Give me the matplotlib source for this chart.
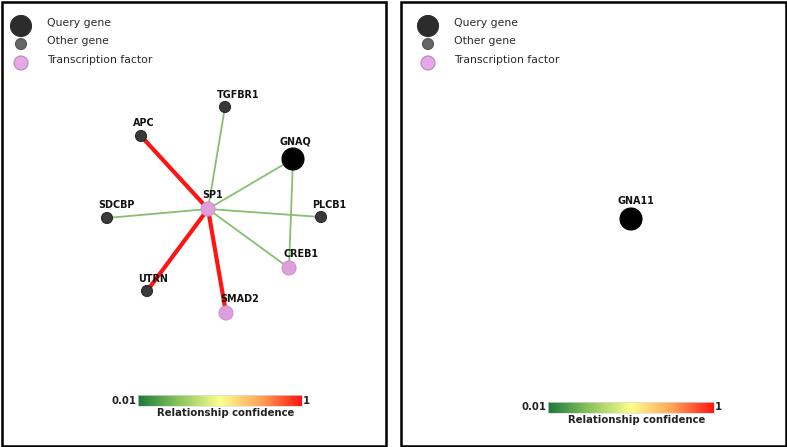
import matplotlib
matplotlib.use('Agg')
import matplotlib.pyplot as plt
import matplotlib.patches as patches
from matplotlib.colors import LinearSegmentedColormap
import numpy as np

W, H = 787, 447

# network layout (pixel positions inside the left panel)
genes = ['SP1', 'TGFBR1', 'APC', 'GNAQ', 'SDCBP', 'PLCB1', 'CREB1', 'UTRN', 'SMAD2']
gene_x = [208, 225, 141, 293, 107, 321, 289, 147, 226]
gene_y = [209, 107, 136, 159, 218, 217, 268, 291, 313]
gene_kind = ['tf', 'other', 'other', 'query', 'other', 'other', 'tf', 'other', 'tf']

edge_src = ['SP1', 'SP1', 'SP1', 'SP1', 'SP1', 'SP1', 'SP1', 'SP1', 'GNAQ']
edge_dst = ['APC', 'UTRN', 'SMAD2', 'TGFBR1', 'GNAQ', 'SDCBP', 'PLCB1', 'CREB1', 'CREB1']
edge_conf = [1.0, 1.0, 1.0, 0.2, 0.2, 0.2, 0.2, 0.2, 0.2]

# right panel: single query gene
genes2 = ['GNA11']
gene2_x = [631]
gene2_y = [219]
gene2_kind = ['query']

legend_labels = ['Query gene', 'Other gene', 'Transcription factor']

node_style = {
    'query': dict(r=11, fc='#000000', ec='#000000'),
    'other': dict(r=5.5, fc='#3a3a3a', ec='#2a2a2a'),
    'tf': dict(r=7, fc='#dda0dd', ec='#d090d0'),
}
legend_style = [
    dict(r=10.5, fc='#2c2c2c', ec='#2c2c2c'),
    dict(r=5.5, fc='#666666', ec='#555555'),
    dict(r=7, fc='#e6a8e6', ec='#b888b8'),
]

cmap = LinearSegmentedColormap.from_list(
    'conf', ['#1a7a3c', '#8cc45e', '#fbff8e', '#ffa458', '#ff1414'])

fig = plt.figure(figsize=(W / 100, H / 100), dpi=100)
ax = fig.add_axes([0, 0, 1, 1])
ax.set_xlim(0, W)
ax.set_ylim(H, 0)
ax.axis('off')

# panel borders
for x0, x1 in [(1.5, 386), (400.5, 785.5)]:
    ax.add_patch(patches.Rectangle((x0, 1.5), x1 - x0, 444, fill=False,
                                   ec='black', lw=1.8, zorder=1))


def draw_legend(x0, y0):
    for i, (lab, st) in enumerate(zip(legend_labels, legend_style)):
        yy = y0 + [0, 18, 37][i]
        ax.add_patch(plt.Circle((x0, yy), st['r'], fc=st['fc'], ec=st['ec'], lw=0.8, zorder=3))
        ax.text(x0 + 26, yy - 3, lab, fontsize=7.8, color='#2a2a2a', ha='left', va='center',
                family='DejaVu Sans')


def draw_nodes(names, xs, ys, kinds):
    for nm, x, y, k in zip(names, xs, ys, kinds):
        st = node_style[k]
        ax.add_patch(plt.Circle((x, y), st['r'], fc=st['fc'], ec=st['ec'], lw=0.8, zorder=4))
        ax.text(x - st['r'] - 3 if k != 'tf' else x - st['r'] + 1, y - st['r'] - 2, nm,
                fontsize=6.9, color='#111111', ha='left', va='bottom', zorder=5,
                fontweight='bold')


def draw_colorbar(x0, x1, y0, h):
    grad = np.linspace(0, 1, 256).reshape(1, -1)
    ax.imshow(grad, cmap=cmap, aspect='auto', extent=(x0, x1, y0 + h, y0), zorder=2)
    ax.add_patch(patches.Rectangle((x0, y0), x1 - x0, h, fill=False, ec='#dddddd', lw=0.5, zorder=3))
    ax.text(x0 - 2, y0 + h / 2, '0.01', fontsize=7.3, ha='right', va='center', fontweight='bold',
            color='#222222')
    ax.text(x1 + 1, y0 + h / 2, '1', fontsize=7.3, ha='left', va='center', fontweight='bold',
            color='#222222')
    ax.text((x0 + x1) / 2 + 6, y0 + h + 7, 'Relationship confidence', fontsize=7.3,
            ha='center', va='center', fontweight='bold', color='#222222')


# left panel
pos = {g: (x, y) for g, x, y in zip(genes, gene_x, gene_y)}
for s, d, c in zip(edge_src, edge_dst, edge_conf):
    (xa, ya), (xb, yb) = pos[s], pos[d]
    ax.plot([xa, xb], [ya, yb], color=cmap(c) if c > 0.5 else '#84c070',
            lw=3.0 if c > 0.5 else 1.3, solid_capstyle='butt', zorder=2)

draw_legend(21, 26)
draw_nodes(genes, gene_x, gene_y, gene_kind)
draw_colorbar(138, 302, 395, 11)

# right panel
draw_legend(428, 26)
draw_nodes(genes2, gene2_x, gene2_y, gene2_kind)
draw_colorbar(548, 714, 402, 11)

fig.savefig('out.png', dpi=100)
